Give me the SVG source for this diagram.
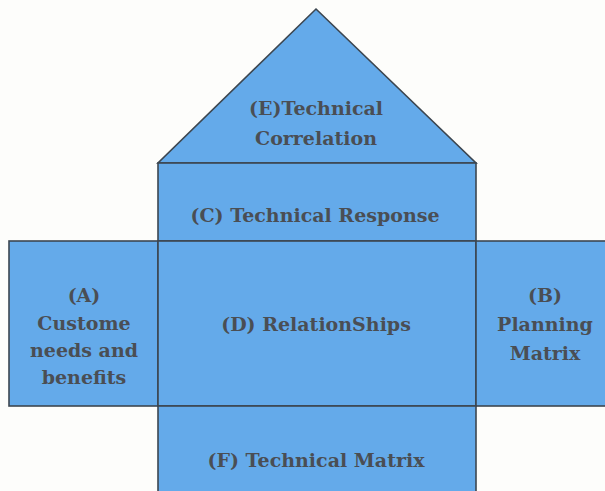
<svg xmlns="http://www.w3.org/2000/svg" width="605" height="491" viewBox="0 0 605 491">
  <style>
    .part { fill: #64aaea; stroke: #3c4650; stroke-width: 1.6; stroke-linejoin: miter; }
    .label { font-family: "DejaVu Serif", "Liberation Serif", serif; font-weight: bold; font-size: 19px; fill: #4a4e54; text-anchor: middle; }
  </style>
  <rect width="605" height="491" fill="#fdfdfb"/>

  <!-- Roof: correlation matrix -->
  <g id="node-e">
    <polygon class="part" points="316,9 476,163 158,163"/>
    <text class="label" x="316" y="115">(E)Technical</text>
    <text class="label" x="316" y="145">Correlation</text>
  </g>

  <!-- Technical response band -->
  <g id="node-c">
    <rect class="part" x="158" y="163" width="318" height="78"/>
    <text class="label" x="315" y="222">(C) Technical Response</text>
  </g>

  <!-- Customer needs (left wing) -->
  <g id="node-a">
    <rect class="part" x="9" y="241" width="149" height="165"/>
    <text class="label" x="84" y="302">(A)</text>
    <text class="label" x="84" y="330">Custome</text>
    <text class="label" x="84" y="357">needs and</text>
    <text class="label" x="84" y="384">benefits</text>
  </g>

  <!-- Relationships (centre) -->
  <g id="node-d">
    <rect class="part" x="158" y="241" width="318" height="165"/>
    <text class="label" x="316" y="331">(D) RelationShips</text>
  </g>

  <!-- Planning matrix (right wing) -->
  <g id="node-b">
    <rect class="part" x="476" y="241" width="135" height="165"/>
    <text class="label" x="545" y="302">(B)</text>
    <text class="label" x="545" y="331">Planning</text>
    <text class="label" x="545" y="360">Matrix</text>
  </g>

  <!-- Technical matrix (basement) -->
  <g id="node-f">
    <rect class="part" x="158" y="406" width="318" height="95"/>
    <text class="label" x="316" y="467">(F) Technical Matrix</text>
  </g>

  <g id="connectors"></g>
</svg>
